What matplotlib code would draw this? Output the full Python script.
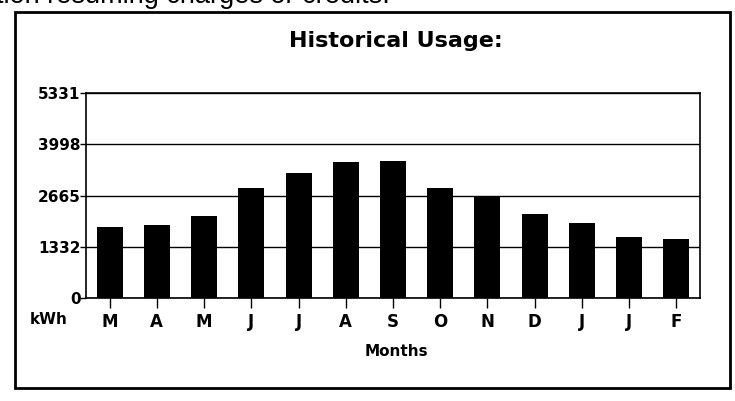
import matplotlib
matplotlib.use("Agg")
import matplotlib.pyplot as plt
from matplotlib.patches import Rectangle

plt.rcParams['font.family'] = ['DejaVu Sans']

# monthly usage (kWh)
months = ["M", "A", "M", "J", "J", "A", "S", "O", "N", "D", "J", "J", "F"]
usage = [1846, 1898, 2133, 2861, 3251, 3537, 3563, 2861, 2653, 2184, 1950, 1586, 1534]
yticks = [0, 1332, 2665, 3998, 5331]

W, H = 735, 401
fig = plt.figure(figsize=(W / 100, H / 100), dpi=100)

# outer frame around the chart
fig.patches.append(Rectangle((15 / W, 1 - 388 / H), 715 / W, 376 / H,
                             transform=fig.transFigure, fill=False,
                             edgecolor="black", linewidth=2))

# clipped line of text from the page above (cut off in the scan too)
fig.text(-4 / W, 1 - 3 / H, "tion resuming charges or credits.", fontsize=19.5,
         family=["Liberation Sans"], ha="left", va="baseline")

fig.text(396 / W, 1 - 47 / H, "Historical Usage:", fontsize=16,
         fontweight="bold", ha="center", va="baseline")

ax = fig.add_axes([86 / W, 1 - 298 / H, 614 / W, 205 / H])
x = list(range(len(months)))
ax.bar(x, usage, width=0.55, color="black", zorder=3)

ax.set_xlim(-0.5, len(months) - 0.5)
ax.set_ylim(0, 5331)
ax.set_yticks(yticks)
ax.set_yticklabels([str(v) for v in yticks], fontsize=11, fontweight="bold")
ax.set_xticks(x)
ax.set_xticklabels(months, fontsize=12, fontweight="bold")
ax.tick_params(axis="y", length=4, width=1, pad=0)
ax.tick_params(axis="x", length=7.5, width=1, pad=3.5)
ax.grid(axis="y", color="black", linewidth=1, zorder=0)
for s in ax.spines.values():
    s.set_linewidth(1.2)

fig.text(49 / W, 1 - 320 / H, "kWh", fontsize=11, fontweight="bold",
         ha="center", va="center")
fig.text(396 / W, 1 - 351 / H, "Months", fontsize=11, fontweight="bold",
         ha="center", va="center")

fig.savefig("out.png", dpi=100)
